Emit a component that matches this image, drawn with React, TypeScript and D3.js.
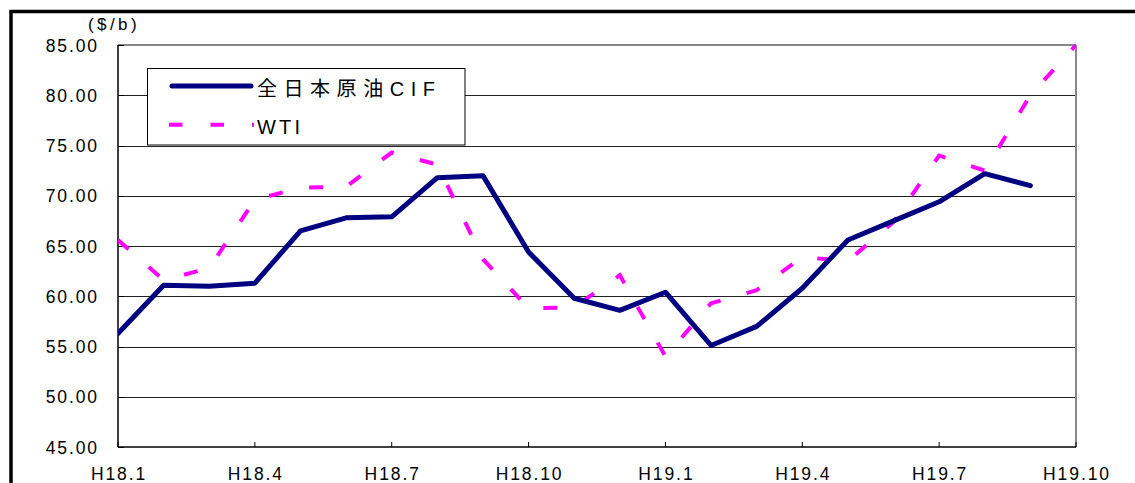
import React from 'react';
import * as d3 from 'd3';

// months on the x axis (H18.1 .. H19.10)
const months = [
  'H18.1', 'H18.2', 'H18.3', 'H18.4', 'H18.5', 'H18.6', 'H18.7', 'H18.8', 'H18.9', 'H18.10', 'H18.11', 'H18.12',
  'H19.1', 'H19.2', 'H19.3', 'H19.4', 'H19.5', 'H19.6', 'H19.7', 'H19.8', 'H19.9', 'H19.10',
];
const tickLabels = ['H18.1', 'H18.4', 'H18.7', 'H18.10', 'H19.1', 'H19.4', 'H19.7', 'H19.10'];
const yTicks = [45, 50, 55, 60, 65, 70, 75, 80, 85];

// 全日本原油CIF ($/b)
const cifValues = [
  56.3, 61.1, 61.0, 61.3, 66.5, 67.8, 67.9, 71.8, 72.0, 64.4, 59.8, 58.6,
  60.4, 55.1, 57.0, 60.8, 65.6, 67.5, 69.4, 72.2, 71.0,
];
// WTI ($/b)
const wtiValues = [
  65.6, 61.6, 62.8, 69.6, 70.8, 70.9, 74.3, 73.1, 63.7, 58.8, 58.9, 62.1,
  54.0, 59.3, 60.6, 63.9, 63.5, 67.4, 74.0, 72.5, 80.0, 85.0,
];

const seriesNames = ['全日本原油CIF', 'WTI'];

const W = 1135;
const H = 483;
const left = 118;
const right = 1076;
const top = 45;
const bottom = 447;

const latin = "'Liberation Sans', Arial, sans-serif";
const cjk = "'Liberation Sans', 'Noto Sans CJK JP', sans-serif";

export default function App() {
  const x = d3.scalePoint<string>().domain(months).range([left, right]);
  const y = d3.scaleLinear().domain([45, 85]).range([bottom, top]);

  const line = d3.line<number>()
    .x((_, i) => x(months[i]) as number)
    .y((d) => y(d));

  const dash = '14 27';

  return (
    <svg width={W} height={H} style={{ position: 'absolute', left: 0, top: 0, background: '#fff' }}>
      <defs>
        <clipPath id="plot">
          <rect x={left} y={top - 2} width={right - left} height={bottom - top + 2} />
        </clipPath>
      </defs>

      {/* outer frame */}
      <rect x={11} y={11.5} width={W + 20} height={H + 20} fill="#fff" stroke="#000" strokeWidth={3.5} />

      {/* gridlines */}
      {yTicks.filter((t) => t > 45 && t < 85).map((t) => (
        <line key={t} x1={left} x2={right} y1={Math.round(y(t)) + 0.5} y2={Math.round(y(t)) + 0.5} stroke="#222" strokeWidth={1} />
      ))}

      {/* plot border (top / right) */}
      <line x1={left} x2={right} y1={top} y2={top} stroke="#888" strokeWidth={2} />
      <line x1={right} x2={right} y1={top} y2={bottom} stroke="#888" strokeWidth={2} />

      {/* y ticks */}
      {yTicks.map((t) => (
        <g key={t}>
          <line x1={left} x2={left + 6} y1={Math.round(y(t)) + 0.5} y2={Math.round(y(t)) + 0.5} stroke="#000" strokeWidth={1} />
          <text x={99} y={y(t) + 6.5} textAnchor="end" fontFamily={latin} fontSize={17.5} letterSpacing={1.9} fill="#000">
            {t.toFixed(2)}
          </text>
        </g>
      ))}
      <text x={88} y={30} fontFamily={latin} fontSize={17} letterSpacing={3.4} fill="#000">($/b)</text>

      {/* x ticks */}
      {tickLabels.map((m) => (
        <g key={m}>
          <line x1={x(m)} x2={x(m)} y1={bottom} y2={bottom - 5} stroke="#000" strokeWidth={1} />
          <text x={(x(m) as number) + 1} y={480} textAnchor="middle" fontFamily={latin} fontSize={17.5} letterSpacing={1.9} fill="#000">
            {m}
          </text>
        </g>
      ))}

      {/* axes */}
      <line x1={left} x2={left} y1={top} y2={bottom} stroke="#000" strokeWidth={1.5} />
      <line x1={left} x2={right} y1={bottom} y2={bottom} stroke="#000" strokeWidth={1.5} />

      {/* series */}
      <g clipPath="url(#plot)">
        <path d={line(wtiValues) ?? ''} fill="none" stroke="#ff00ff" strokeWidth={4} strokeDasharray={dash} />
        <path d={line(cifValues) ?? ''} fill="none" stroke="#000080" strokeWidth={5} strokeLinejoin="round" strokeLinecap="round" />
      </g>

      {/* legend */}
      <rect x={147.5} y={68.5} width={317.5} height={76.5} fill="#fff" stroke="#000" strokeWidth={1} />
      <line x1={172} x2={251} y1={86} y2={86} stroke="#000080" strokeWidth={5} strokeLinecap="round" />
      <text x={257} y={95.5} fontFamily={cjk} fontSize={20} textLength={178} lengthAdjust="spacing" fill="#000">
        {seriesNames[0]}
      </text>
      <line x1={169} x2={254} y1={124.7} y2={124.7} stroke="#ff00ff" strokeWidth={4} strokeDasharray="13.5 28" />
      <text x={257} y={134} fontFamily={latin} fontSize={20} textLength={43} lengthAdjust="spacing" fill="#000">
        {seriesNames[1]}
      </text>
    </svg>
  );
}
